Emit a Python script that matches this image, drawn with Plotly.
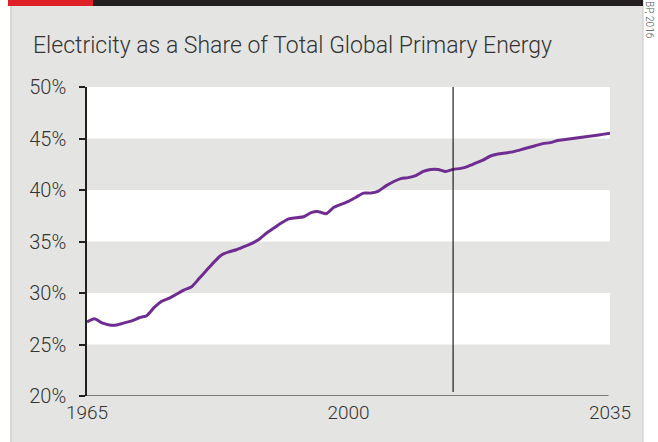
import plotly.graph_objects as go

years = list(range(1965, 2036))
share = [27.2, 27.5, 27.1, 26.9, 26.9, 27.1, 27.3, 27.6, 27.8, 28.6,
         29.2, 29.5, 29.9, 30.3, 30.6, 31.4, 32.2, 33.0, 33.7, 34.0,
         34.2, 34.5, 34.8, 35.2, 35.8, 36.3, 36.8, 37.2, 37.3, 37.4,
         37.8, 37.9, 37.7, 38.3, 38.6, 38.9, 39.3, 39.7, 39.7, 39.9,
         40.4, 40.8, 41.1, 41.2, 41.4, 41.8, 42.0, 42.0, 41.8, 42.0,
         42.1, 42.3, 42.6, 42.9, 43.3, 43.5, 43.6, 43.7, 43.9, 44.1,
         44.3, 44.5, 44.6, 44.8, 44.9, 45.0, 45.1, 45.2, 45.3, 45.4, 45.5]
y_ticks = [20, 25, 30, 35, 40, 45, 50]
y_tick_labels = ["20%", "25%", "30%", "35%", "40%", "45%", "50%"]
x_ticks = [1965, 2000, 2035]
divider_year = 2014
title_text = "Electricity as a Share of Total Global Primary Energy"

GRAY = "#e4e5e2"
FONT = "Roboto, sans-serif"

fig = go.Figure()
fig.add_trace(go.Scatter(x=years, y=share, mode="lines",
                         line=dict(color="#6f2c91", width=3, shape="spline", smoothing=0.6),
                         hoverinfo="skip", showlegend=False))

W, H = 658, 442
L, T, PW, PH = 87, 87, 523, 309
def px(x):
    return (x - L) / PW
def py(y):
    return 1 - (y - T) / PH

shapes = []
shapes.append(dict(type="rect", xref="paper", yref="paper",
                   x0=px(10), x1=px(643), y0=py(H + 5), y1=py(6),
                   fillcolor=GRAY, line=dict(width=0), layer="below"))
shapes.append(dict(type="line", xref="paper", yref="paper",
                   x0=px(11), x1=px(11), y0=py(H + 5), y1=py(6),
                   line=dict(color="#c8c9c6", width=1), layer="below"))
shapes.append(dict(type="line", xref="paper", yref="paper",
                   x0=px(643), x1=px(643), y0=py(H + 5), y1=py(0),
                   line=dict(color="#c8c9c6", width=1), layer="below"))
shapes.append(dict(type="rect", xref="paper", yref="paper",
                   x0=px(8), x1=px(93), y0=py(6), y1=py(-2),
                   fillcolor="#e02027", line=dict(width=0)))
shapes.append(dict(type="rect", xref="paper", yref="paper",
                   x0=px(93), x1=px(643), y0=py(6), y1=py(-2),
                   fillcolor="#231f20", line=dict(width=0)))
for lo in [25, 35, 45]:
    shapes.append(dict(type="rect", xref="x", yref="y", x0=1965, x1=2035,
                       y0=lo, y1=lo + 5, fillcolor="white", line=dict(width=0), layer="below"))
shapes.append(dict(type="line", xref="x", yref="y", x0=divider_year, x1=divider_year,
                   y0=20.4, y1=50, line=dict(color="#231f20", width=1.2)))
shapes.append(dict(type="line", xref="x", yref="y", x0=1965, x1=2034.8, y0=20, y1=20,
                   line=dict(color="#555555", width=1.5)))

fig.update_layout(
    width=W, height=H,
    margin=dict(l=L, r=W - L - PW, t=T, b=H - T - PH),
    paper_bgcolor="white", plot_bgcolor="rgba(0,0,0,0)",
    font=dict(family=FONT, color="#333333", size=19, weight=300),
    shapes=shapes,
    xaxis=dict(range=[1965, 2035], tickvals=x_ticks, ticktext=[str(v) for v in x_ticks],
               showgrid=False, zeroline=False, showline=False, ticks="",
               tickfont=dict(size=19, color="#333333", family=FONT, weight=300),
               ticklabelstandoff=3, fixedrange=True),
    yaxis=dict(range=[20, 50], tickvals=y_ticks, ticktext=y_tick_labels,
               showgrid=False, zeroline=False, showline=True, linecolor="#231f20", linewidth=1.5,
               ticks="outside", ticklen=6, tickcolor="#231f20", tickwidth=1.5,
               tickfont=dict(size=20, color="#333333", family=FONT, weight=300),
               ticklabelstandoff=9, fixedrange=True),
    annotations=[
        dict(text=title_text, xref="paper", yref="paper", x=px(31), y=py(46),
             xanchor="left", yanchor="middle", showarrow=False,
             font=dict(size=23, color="#333333", family=FONT, weight=300)),
        dict(text="BP, 2016", xref="paper", yref="paper", x=px(650), y=py(41),
             xanchor="center", yanchor="bottom", textangle=90, showarrow=False,
             font=dict(size=10, color="#555555", family=FONT)),
    ],
)

fig.write_html("out.html", config={"displayModeBar": False},
               post_script="document.body.style.margin='0';document.body.style.padding='0';")
